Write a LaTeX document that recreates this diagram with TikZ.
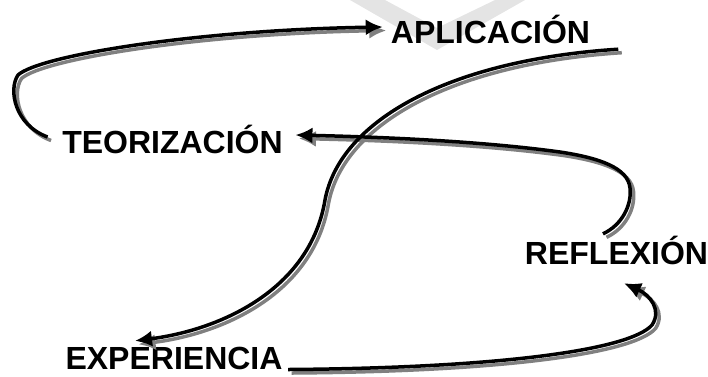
\documentclass[tikz,border=0pt]{standalone}
\usepackage{fontspec}
\setmainfont{Liberation Sans}
\usepackage{tikz}
\usetikzlibrary{arrows.meta, calc}
\definecolor{sombragris}{RGB}{128, 128, 128}
\definecolor{marcagris}{RGB}{228, 228, 228}

\begin{document}
\begin{tikzpicture}[x=1pt, y=-1pt,
		etapa/.style={font=\fontsize{32}{38}\selectfont\bfseries, inner sep=0pt, text height=23pt, text depth=0pt, anchor=base},
		trazo/.style={line width=3.5pt, -{Latex[length=17pt, width=16pt]}},
		sombra/.style={trazo, draw=sombragris, transform canvas={shift={(3.5pt,-3.5pt)}}},
		negro/.style={trazo, draw=black}]
			\useasboundingbox (0,0) rectangle (708,376);
			% marca de fondo
			\fill[marcagris] (350,0) -- (437,50) -- (525,0) -- (495,0) -- (437,28) -- (385,0) -- cycle;
			% etapas del ciclo
			\node[etapa] (apl) at (490.5,43) {APLICACIÓN};
			\node[etapa] (teo) at (172.5,153) {TEORIZACIÓN};
			\node[etapa] (ref) at (616.5,264) {REFLEXIÓN};
			\node[etapa] (exp) at (174,369) {EXPERIENCIA};
			% flechas con sombra
			\foreach \estilo in {sombra, negro} {
				\draw[\estilo] ([shift={(-14.5,-4.5)}]teo.west) .. controls (15,125) and (8,90) .. (18,75)
					.. controls (40,55) and (200,30) .. ([shift={(-8,-4.5)}]apl.west);
				\draw[\estilo] ([shift={(-13.5,-7)}]ref.north) .. controls (622,225) and (632,205) .. (630,188)
					.. controls (628,168) and (600,158) .. (560,152)
					.. controls (480,141) and (380,137) .. ([shift={(12.5,-6.5)}]teo.east);
				\draw[\estilo] ([shift={(28,6)}]apl.south east) .. controls (450,60) and (340,120) .. (325,200)
					.. controls (310,290) and (220,330) .. ([shift={(-39,-5)}]exp.north);
				\draw[\estilo] ([shift={(5.5,12)}]exp.east) .. controls (500,368) and (630,350) .. (652,325)
					.. controls (662,310) and (650,295) .. ([shift={(7.5,19)}]ref.south);
			}
		\end{tikzpicture}
\end{document}
